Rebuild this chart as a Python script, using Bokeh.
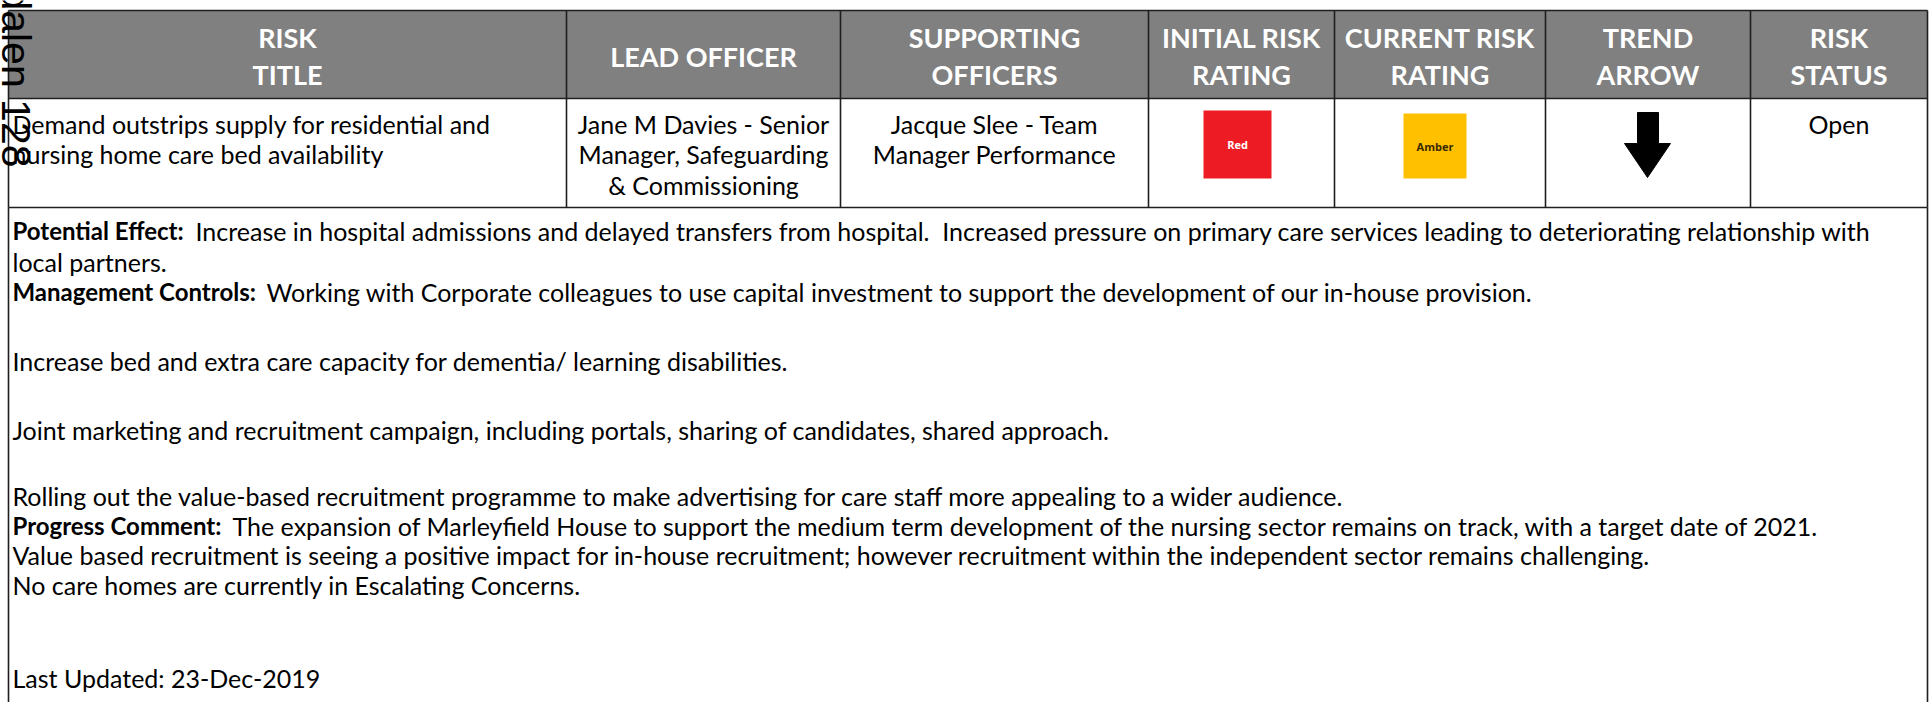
import math
from bokeh.plotting import figure
from bokeh.models import Range1d
from bokeh.core.properties import value
from bokeh.embed import file_html
from bokeh.resources import INLINE

NB = "\u00a0"

# ---------------- data ----------------
header_lines = [["RISK", "TITLE"], ["LEAD OFFICER"], ["SUPPORTING", "OFFICERS"],
                ["INITIAL RISK", "RATING"], ["CURRENT RISK", "RATING"],
                ["TREND", "ARROW"], ["RISK", "STATUS"]]
risk_title = ["Demand outstrips supply for residential and",
              "nursing home care bed availability"]
lead_officer = ["Jane M Davies - Senior", "Manager, Safeguarding", "& Commissioning"]
supporting_officers = ["Jacque Slee - Team", "Manager Performance"]
initial_rating = "Red"
current_rating = "Amber"
trend_direction = "down"
risk_status = "Open"
rating_fill = {"Red": "#ED1C24", "Amber": "#FFC000"}
rating_text = {"Red": "#FFFFFF", "Amber": "#3A2A00"}
detail_labels = ["Potential Effect:", "", "Management Controls:", "", "", "",
                 "Progress Comment:", "", "", ""]
detail_texts = [
    "Increase in hospital admissions and delayed transfers from hospital." + NB + " Increased pressure on primary care services leading to deteriorating relationship with",
    "local partners.",
    "Working with Corporate colleagues to use capital investment to support the development of our in-house provision.",
    "Increase bed and extra care capacity for dementia/ learning disabilities.",
    "Joint marketing and recruitment campaign, including portals, sharing of candidates, shared approach.",
    "Rolling out the value-based recruitment programme to make advertising for care staff more appealing to a wider audience.",
    "The expansion of Marleyfield House to support the medium term development of the nursing sector remains on track, with a target date of 2021.",
    "Value based recruitment is seeing a positive impact for in-house recruitment; however recruitment within the independent sector remains challenging.",
    "No care homes are currently in Escalating Concerns.",
    "Last Updated: 23-Dec-2019",
]
page_label = "Tudalen 128"

# ---------------- layout (pixels in the picture) ----------------
W, H = 1931, 702
col_edges = [8, 566, 840, 1148, 1334, 1545, 1750, 1927]
header_top, header_bottom, row_bottom, box_bottom = 10, 98, 207, 720
row_line_y = [123, 153, 184]
detail_y = [230, 261, 291, 360, 429, 495, 525, 554, 584, 677]
detail_text_x = [195, 12, 266, 12, 12, 12, 232, 12, 12, 12]

BODY = value("Lato")
BODY_SIZE = "25px"
LABEL_SIZE = "24px"
HEAD_SIZE = "27px"

p = figure(width=W, height=H, output_backend="svg", toolbar_location=None,
           x_range=Range1d(0, W), y_range=Range1d(-H, 0),
           min_border=0, outline_line_color=None, background_fill_color="white",
           border_fill_color="white")
p.axis.visible = False
p.grid.visible = False

Y = lambda v: -v

# header background
p.quad(left=[col_edges[0]], right=[col_edges[-1]], top=[Y(header_top)], bottom=[Y(header_bottom)],
       fill_color="#808080", line_color=None)

# header texts
for i, lines in enumerate(header_lines):
    cx = (col_edges[i] + col_edges[i + 1]) / 2
    ys = [56] if len(lines) == 1 else [37, 74]
    p.text(x=[cx] * len(lines), y=[Y(v) for v in ys], text=lines, text_align="center",
           text_baseline="middle", text_font=BODY, text_font_style="bold",
           text_font_size=HEAD_SIZE, text_color="white")

# grid lines
line_col = "#1f1f1f"
xs, ys = [], []
for x in col_edges:
    xs.append([x, x]); ys.append([Y(header_top), Y(row_bottom)])
for yv in [header_top, header_bottom, row_bottom]:
    xs.append([col_edges[0], col_edges[-1]]); ys.append([Y(yv), Y(yv)])
xs.append([col_edges[0], col_edges[0]]); ys.append([Y(row_bottom), Y(box_bottom)])
xs.append([col_edges[-1], col_edges[-1]]); ys.append([Y(row_bottom), Y(box_bottom)])
p.multi_line(xs=xs, ys=ys, line_color=line_col, line_width=1.6)

# row texts
p.text(x=[12] * len(risk_title), y=[Y(v) for v in row_line_y[:len(risk_title)]], text=risk_title,
       text_align="left", text_baseline="middle", text_font=BODY, text_font_size=BODY_SIZE,
       text_color="black")
cx = (col_edges[1] + col_edges[2]) / 2
p.text(x=[cx] * len(lead_officer), y=[Y(v) for v in row_line_y[:len(lead_officer)]], text=lead_officer,
       text_align="center", text_baseline="middle", text_font=BODY, text_font_size=BODY_SIZE,
       text_color="black")
cx = (col_edges[2] + col_edges[3]) / 2
p.text(x=[cx] * len(supporting_officers), y=[Y(v) for v in row_line_y[:len(supporting_officers)]],
       text=supporting_officers, text_align="center", text_baseline="middle", text_font=BODY,
       text_font_size=BODY_SIZE, text_color="black")
cx = (col_edges[6] + col_edges[7]) / 2
p.text(x=[cx], y=[Y(row_line_y[0])], text=[risk_status], text_align="center", text_baseline="middle",
       text_font=BODY, text_font_size=BODY_SIZE, text_color="black")

# rating boxes
for rating, (l, r, t, b) in [(initial_rating, (1203, 1271, 110, 178)),
                             (current_rating, (1403, 1466, 113, 178))]:
    p.quad(left=[l], right=[r], top=[Y(t)], bottom=[Y(b)], fill_color=rating_fill[rating], line_color=None)
    p.text(x=[(l + r) / 2], y=[Y((t + b) / 2)], text=[rating], text_align="center", text_baseline="middle",
           text_font=value("Open Sans"), text_font_style="bold", text_font_size="11px",
           text_color=rating_text[rating])

# trend arrow
if trend_direction == "down":
    ax = [1637, 1658, 1658, 1670, 1647, 1624, 1637]
    ay = [112, 112, 143, 143, 177, 143, 143]
else:
    ax = [1637, 1658, 1658, 1670, 1647, 1624, 1637]
    ay = [177, 177, 146, 146, 112, 146, 146]
p.patch(x=ax, y=[Y(v) for v in ay], fill_color="black", line_color="black", line_width=1)

# details
for lab, txt, yv, tx in zip(detail_labels, detail_texts, detail_y, detail_text_x):
    if lab:
        p.text(x=[12], y=[Y(yv)], text=[lab], text_align="left", text_baseline="middle",
               text_font=BODY, text_font_style="bold", text_font_size=LABEL_SIZE, text_color="black")
    p.text(x=[tx], y=[Y(yv)], text=[txt], text_align="left", text_baseline="middle",
           text_font=BODY, text_font_size=BODY_SIZE, text_color="black")

# rotated page label at left edge
p.text(x=[15], y=[Y(167)], text=[page_label], angle=-math.pi / 2, text_align="right",
       text_baseline="alphabetic", text_font=value("Liberation Sans"), text_font_size="41px",
       text_color="black")

open("out.html", "w").write(file_html(p, INLINE))
